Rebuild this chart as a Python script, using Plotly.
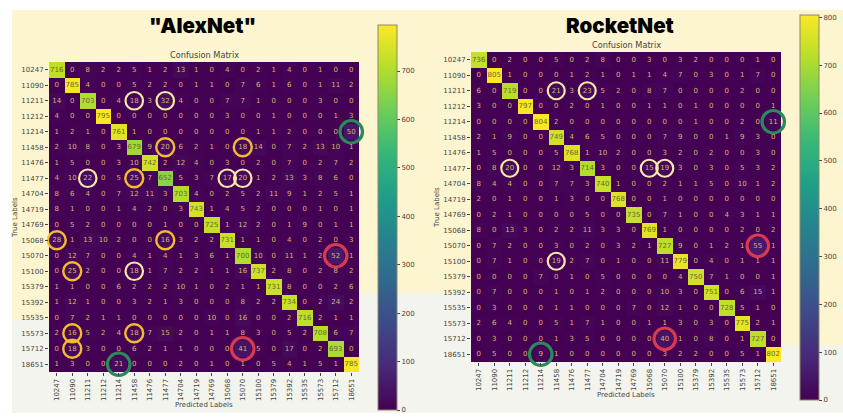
import plotly.graph_objects as go

W, H = 843, 419

labels = ["10247", "11090", "11211", "11212", "11214", "11458", "11476", "11477", "14704", "14719",
          "14769", "15068", "15070", "15100", "15379", "15392", "15535", "15573", "15712", "18651"]

alexnet = [
    [716, 0, 8, 2, 2, 5, 1, 2, 13, 1, 0, 4, 0, 2, 1, 4, 0, 1, 0, 0],
    [0, 785, 4, 0, 0, 5, 2, 2, 0, 1, 1, 0, 7, 6, 1, 6, 0, 1, 11, 2],
    [14, 0, 703, 0, 4, 18, 3, 32, 4, 0, 0, 7, 7, 1, 0, 0, 0, 3, 0, 0],
    [4, 0, 0, 795, 0, 0, 0, 0, 0, 0, 0, 3, 0, 0, 1, 0, 0, 0, 1, 3],
    [1, 2, 1, 0, 761, 1, 0, 0, 0, 0, 0, 0, 0, 1, 1, 2, 0, 0, 0, 50],
    [2, 10, 8, 0, 3, 679, 9, 20, 6, 2, 1, 0, 18, 14, 0, 7, 2, 13, 10, 1],
    [1, 5, 0, 0, 3, 10, 742, 2, 12, 4, 0, 3, 0, 2, 0, 7, 0, 2, 7, 2],
    [4, 10, 22, 0, 5, 25, 7, 652, 5, 3, 7, 17, 20, 1, 2, 13, 3, 8, 6, 0],
    [8, 6, 4, 0, 7, 12, 11, 3, 703, 4, 0, 2, 5, 2, 11, 9, 1, 2, 5, 1],
    [8, 1, 0, 0, 1, 4, 2, 0, 3, 743, 1, 4, 5, 2, 0, 0, 0, 1, 0, 1],
    [0, 5, 2, 0, 0, 0, 0, 1, 0, 0, 725, 1, 12, 2, 0, 1, 9, 0, 1, 1],
    [28, 1, 13, 10, 2, 0, 0, 16, 3, 2, 2, 731, 1, 1, 0, 4, 0, 2, 0, 3],
    [0, 12, 7, 0, 0, 4, 1, 4, 1, 3, 6, 1, 700, 10, 0, 11, 1, 2, 52, 1],
    [0, 25, 2, 0, 0, 18, 1, 7, 2, 2, 1, 1, 16, 737, 2, 8, 0, 2, 8, 2],
    [1, 1, 0, 0, 6, 2, 2, 2, 10, 1, 0, 2, 1, 1, 731, 8, 0, 0, 2, 6],
    [1, 12, 1, 0, 0, 3, 2, 1, 3, 0, 0, 0, 8, 2, 2, 734, 0, 2, 24, 2],
    [0, 7, 2, 1, 1, 0, 0, 0, 0, 0, 10, 0, 16, 0, 0, 2, 716, 2, 1, 1],
    [2, 16, 5, 2, 4, 18, 7, 15, 2, 0, 1, 1, 8, 3, 0, 5, 2, 708, 6, 7],
    [0, 18, 3, 0, 0, 6, 2, 1, 1, 0, 0, 0, 41, 5, 0, 17, 0, 2, 693, 0],
    [1, 3, 0, 0, 21, 0, 0, 0, 2, 0, 1, 0, 1, 0, 5, 4, 1, 5, 1, 785],
]

rocketnet = [
    [736, 0, 2, 0, 0, 5, 0, 2, 8, 0, 0, 3, 0, 3, 2, 0, 0, 0, 1, 0],
    [0, 805, 1, 0, 0, 0, 1, 2, 1, 0, 1, 1, 4, 7, 0, 3, 0, 1, 7, 0],
    [6, 0, 719, 0, 0, 21, 3, 23, 5, 2, 0, 8, 7, 0, 0, 0, 0, 2, 0, 0],
    [3, 0, 0, 797, 0, 0, 2, 0, 1, 0, 0, 1, 1, 0, 1, 0, 0, 0, 0, 1],
    [0, 0, 0, 0, 804, 2, 0, 0, 0, 0, 0, 0, 0, 0, 1, 0, 0, 2, 0, 11],
    [2, 1, 9, 0, 0, 749, 4, 6, 5, 0, 0, 0, 7, 9, 0, 0, 1, 9, 3, 0],
    [1, 5, 0, 0, 0, 5, 768, 1, 10, 2, 0, 0, 3, 2, 0, 2, 0, 0, 3, 0],
    [0, 8, 20, 0, 0, 12, 3, 714, 3, 0, 0, 15, 19, 3, 0, 3, 0, 5, 3, 2],
    [8, 4, 4, 0, 0, 7, 7, 3, 740, 1, 0, 0, 2, 1, 1, 5, 0, 10, 1, 2],
    [2, 0, 1, 0, 0, 1, 3, 0, 0, 768, 0, 0, 1, 0, 0, 0, 0, 0, 0, 0],
    [0, 2, 1, 0, 0, 0, 0, 5, 0, 0, 735, 0, 7, 1, 0, 0, 4, 3, 1, 1],
    [8, 0, 13, 3, 0, 2, 2, 11, 3, 3, 0, 769, 1, 0, 0, 0, 0, 2, 0, 2],
    [0, 7, 2, 0, 0, 3, 0, 2, 0, 3, 2, 1, 727, 9, 0, 1, 2, 1, 55, 1],
    [0, 7, 1, 0, 0, 19, 2, 7, 0, 1, 0, 0, 11, 779, 0, 4, 0, 1, 1, 1],
    [0, 0, 0, 0, 7, 0, 1, 0, 5, 0, 0, 0, 0, 4, 750, 7, 1, 0, 0, 1],
    [0, 7, 0, 0, 0, 1, 0, 1, 2, 0, 0, 0, 10, 3, 0, 751, 0, 6, 15, 1],
    [0, 3, 0, 0, 0, 1, 1, 0, 0, 0, 7, 0, 12, 1, 0, 0, 728, 5, 1, 0],
    [2, 6, 4, 0, 0, 5, 1, 7, 1, 0, 0, 1, 1, 3, 0, 3, 0, 775, 2, 1],
    [0, 3, 0, 0, 0, 1, 3, 5, 0, 0, 0, 0, 40, 1, 0, 8, 0, 1, 727, 0],
    [0, 5, 0, 0, 9, 1, 0, 0, 0, 0, 0, 0, 3, 2, 2, 0, 0, 5, 1, 802],
]

# highlighted cells as (row, column)
alex_pale = [(2, 5), (2, 7), (7, 2), (7, 11), (7, 12), (13, 5)]
alex_gold = [(5, 7), (5, 12), (7, 5), (11, 0), (11, 7), (13, 1), (17, 1), (17, 5), (18, 1)]
alex_red = [(12, 18), (18, 12)]
alex_green = [(4, 19), (19, 4)]
rocket_pale = [(2, 5), (2, 7), (7, 2), (7, 11), (7, 12), (13, 5)]
rocket_red = [(12, 18), (18, 12)]
rocket_green = [(4, 19), (19, 4)]

PALE, GOLD, RED, GREEN = "#FAE9A6", "#F4BC2C", "#D93A50", "#2B8A5A"
FONT = "DejaVu Sans"
INK = "#444444"
CREAM, GREY = "#FDF5CF", "#F4F4EE"


def px_x(p):
    return p / W


def px_y(p):
    return 1 - p / H


fig = go.Figure()
index = list(range(len(labels)))


def add_panel(matrix, suffix, caxis, rings):
    xa, ya = "x" + suffix, "y" + suffix
    fig.add_trace(go.Heatmap(z=matrix, x=index, y=index, coloraxis=caxis, xaxis=xa, yaxis=ya,
                             hoverinfo="skip", xgap=0, ygap=0))
    for cells, colour, size, width in rings:
        fig.add_trace(go.Scatter(
            x=[c for _, c in cells], y=[r for r, _ in cells], xaxis=xa, yaxis=ya,
            mode="markers", cliponaxis=False, showlegend=False, hoverinfo="skip",
            marker=dict(symbol="circle-open", size=size, color=colour, line=dict(color=colour, width=width)),
        ))
    xs, ys, texts, colours = [], [], [], []
    for r, row in enumerate(matrix):
        for c, v in enumerate(row):
            xs.append(c)
            ys.append(r)
            texts.append(str(v))
            colours.append("#6a6a2c" if v > 400 else "#DDB26E")
    fig.add_trace(go.Scatter(
        x=xs, y=ys, text=texts, xaxis=xa, yaxis=ya, mode="text", showlegend=False, hoverinfo="skip",
        textposition="middle center", textfont=dict(family=FONT, size=7, color=colours),
    ))


add_panel(alexnet, "", "coloraxis", [(alex_pale, PALE, 17.5, 2.2), (alex_gold, GOLD, 18, 2.4),
                                     (alex_red, RED, 22.5, 3.2), (alex_green, GREEN, 22.5, 3.2)])
add_panel(rocketnet, "2", "coloraxis2", [(rocket_pale, PALE, 17, 2.2),
                                         (rocket_red, RED, 21.5, 3.2), (rocket_green, GREEN, 22.5, 3.2)])


def x_axis(left, right, anchor):
    return dict(domain=[px_x(left), px_x(right)], anchor=anchor, range=[-0.5, 19.5],
                tickmode="array", tickvals=index, ticktext=labels, tickangle=-90,
                tickfont=dict(family=FONT, size=7, color=INK), ticks="outside", ticklen=3, tickwidth=1,
                tickcolor=INK, showgrid=False, zeroline=False, showline=False)


def y_axis(top, bottom, anchor):
    return dict(domain=[px_y(bottom), px_y(top)], anchor=anchor, range=[19.5, -0.5],
                tickmode="array", tickvals=index, ticktext=labels,
                tickfont=dict(family=FONT, size=7, color=INK), ticks="outside", ticklen=3, tickwidth=1,
                tickcolor=INK, showgrid=False, zeroline=False, showline=False)


def colour_axis(zmax, left, top, length, ticks):
    return dict(colorscale="Viridis", cmin=0, cmax=zmax, colorbar=dict(
        x=px_x(left), xanchor="left", xpad=0, y=px_y(top), yanchor="top", ypad=0,
        lenmode="pixels", len=length, thicknessmode="pixels", thickness=19,
        tickmode="array", tickvals=ticks, ticks="outside", ticklen=3, tickcolor=INK,
        tickfont=dict(family=FONT, size=7, color=INK), outlinecolor="#8a8a6a", outlinewidth=1,
    ))


def band(x0, y0, x1, y1, colour):
    return dict(type="rect", xref="paper", yref="paper", x0=px_x(x0), x1=px_x(x1), y0=px_y(y1), y1=px_y(y0),
                fillcolor=colour, line_width=0, layer="below")


def caption(text, x, y, size=8, angle=0, family=FONT, colour=INK, weight="normal"):
    return dict(text=text, xref="paper", yref="paper", x=px_x(x), y=px_y(y), xanchor="center", yanchor="middle",
                showarrow=False, textangle=angle, font=dict(family=family, size=size, color=colour, weight=weight))


fig.update_layout(
    width=W, height=H, autosize=False, margin=dict(l=0, r=0, t=0, b=0), showlegend=False,
    paper_bgcolor="white", plot_bgcolor="#440154",
    xaxis=x_axis(49, 359, "y"), yaxis=y_axis(62, 372, "x"),
    xaxis2=x_axis(471, 781, "y2"), yaxis2=y_axis(52, 362, "x2"),
    coloraxis=colour_axis(795, 378, 25, 385, [0, 100, 200, 300, 400, 500, 600, 700]),
    coloraxis2=colour_axis(805, 800, 15, 385, [0, 100, 200, 300, 400, 500, 600, 700, 800]),
    shapes=[
        band(12, 10, 843, 413, GREY),
        band(12, 10, 49, 320, CREAM),
        band(49, 10, 772, 293, CREAM),
        band(772, 10, 843, 345, CREAM),
    ],
    annotations=[
        caption("\"AlexNet\"", 202, 25, size=20.5, family="Inter", colour="#000000", weight=900),
        caption("RocketNet", 620, 25, size=20.5, family="Inter", colour="#000000", weight=900),
        caption("Confusion Matrix", 204, 55, size=8.2),
        caption("Confusion Matrix", 626, 45, size=8.2),
        caption("True Labels", 15, 218, size=7, angle=-90),
        caption("True Labels", 437, 208, size=7, angle=-90),
        caption("Predicted Labels", 204, 405, size=7),
        caption("Predicted Labels", 626, 395, size=7),
    ],
)

fig.write_html("out.html")
